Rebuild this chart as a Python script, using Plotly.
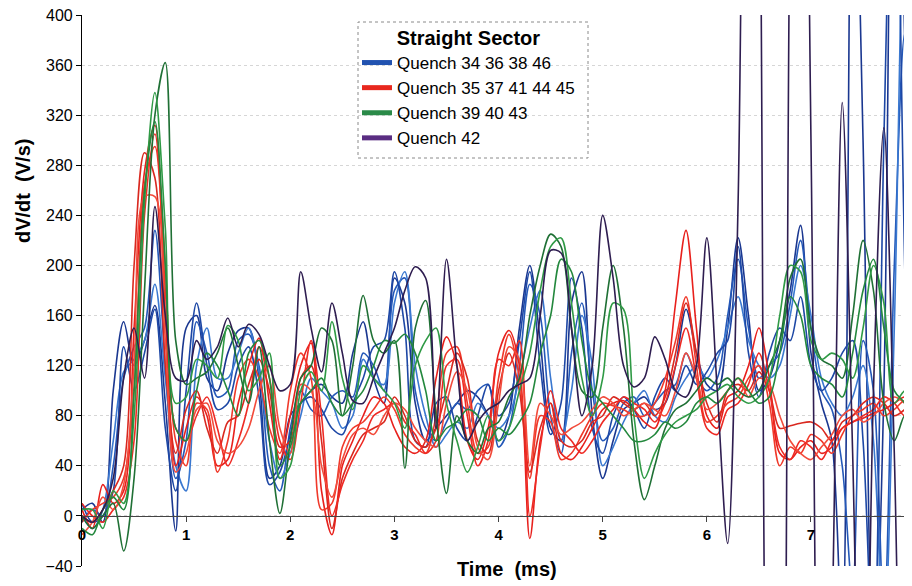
import plotly.graph_objects as go

# time grid (ms)
time_ms = [0.0, 0.1, 0.2, 0.3, 0.4, 0.5, 0.6, 0.7, 0.8, 0.9,
           1.0, 1.1, 1.2, 1.3, 1.4, 1.5, 1.6, 1.7, 1.8, 1.9,
           2.0, 2.1, 2.2, 2.3, 2.4, 2.5, 2.6, 2.7, 2.8, 2.9,
           3.0, 3.1, 3.2, 3.3, 3.4, 3.5, 3.6, 3.7, 3.8, 3.9,
           4.0, 4.1, 4.2, 4.3, 4.4, 4.5, 4.6, 4.7, 4.8, 4.9,
           5.0, 5.1, 5.2, 5.3, 5.4, 5.5, 5.6, 5.7, 5.8, 5.9,
           6.0, 6.1, 6.2, 6.3, 6.4, 6.5, 6.6, 6.7, 6.8, 6.9,
           7.0, 7.1, 7.2, 7.3, 7.4, 7.5, 7.6, 7.7, 7.8, 7.9, 8.0]

# Blue group: Quench 34 36 38 46
q34 = [5, 10, -5, 100, 155, 120, 140, 168, 90, -12,
       150, 160, 110, 100, 130, 148, 150, 110, 30, 40,
       80, 90, 100, 105, 95, 90, 130, 155, 110, 90,
       190, 170, 90, 60, 70, 80, 90, 100, 95, 80,
       60, 80, 150, 200, 140, 70, 60, 170, 195, 80,
       30, 60, 85, 90, 95, 85, 90, 120, 165, 130,
       105, 100, 150, 222, 160, 100, 110, 140, 180, 232,
       130, 90, 60, -100, 600, 300, -150, 100, 700, 380, -100]
q36 = [-5, 5, 0, 40, 110, 135, 150, 228, 120, 30,
       60, 155, 130, 95, 100, 140, 145, 120, 40, 20,
       70, 100, 85, 80, 95, 100, 95, 130, 120, 100,
       180, 190, 100, 70, 60, 75, 90, 85, 100, 105,
       55, 70, 120, 185, 160, 80, 50, 130, 170, 100,
       60, 70, 90, 95, 80, 90, 100, 105, 130, 110,
       100, 110, 160, 205, 150, 110, 120, 130, 170, 220,
       150, 100, 85, 40, -60, 140, 100, -80, 200, 385, 250]
q38 = [0, -10, 5, 60, 115, 125, 140, 185, 110, 40,
       20, 120, 150, 110, 110, 130, 150, 115, 60, 30,
       50, 80, 110, 100, 90, 70, 80, 125, 110, 105,
       170, 195, 120, 80, 55, 65, 75, 70, 90, 80,
       70, 80, 110, 150, 180, 110, 60, 100, 160, 120,
       40, 55, 75, 90, 100, 80, 75, 95, 110, 120,
       110, 125, 150, 175, 140, 120, 110, 120, 160, 200,
       160, 110, 90, 80, 95, 120, 60, -100, 150, 500, 200]
q46 = [10, -5, 0, 20, 135, 100, 130, 165, 70, 20,
       100, 170, 120, 85, 90, 120, 135, 95, 25, 35,
       65, 90, 95, 85, 70, 65, 90, 110, 135, 140,
       195, 150, 60, 55, 90, 95, 70, 60, 80, 105,
       80, 90, 140, 195, 120, 65, 90, 190, 150, 70,
       50, 80, 95, 85, 70, 95, 110, 100, 120, 105,
       115, 130, 140, 215, 130, 95, 130, 150, 140, 175,
       120, 100, 110, 130, 140, 60, -120, 300, 600, 200, -150]

# Red group: Quench 35 37 41 44 45
q35 = [5, -10, 25, 10, 20, 150, 275, 312, 160, 40,
       70, 95, 80, 40, 45, 90, 120, 142, 90, 45,
       80, 120, 138, 20, -15, 40, 60, 80, 95, 90,
       70, 55, 50, 60, 110, 143, 120, 60, 45, 70,
       130, 148, 120, -18, 60, 90, 50, 45, 55, 70,
       85, 90, 92, 85, 75, 70, 100, 170, 228, 150,
       80, 70, 95, 100, 120, 150, 110, 50, 45, 55,
       60, 50, 55, 70, 75, 78, 82, 85, 90, 95, 90]
q37 = [-5, 5, 10, 15, 30, 100, 265, 295, 180, 60,
       40, 90, 85, 35, 60, 110, 125, 110, 70, 50,
       100, 130, 110, 5, 10, 55, 70, 75, 85, 95,
       85, 65, 55, 50, 80, 130, 135, 90, 50, 55,
       110, 145, 110, 30, 80, 75, 45, 50, 65, 80,
       90, 88, 85, 80, 80, 90, 110, 140, 175, 120,
       75, 80, 90, 95, 110, 120, 90, 40, 55, 50,
       65, 60, 50, 65, 80, 85, 90, 80, 85, 92, 85]
q41 = [0, -5, 5, 20, 40, 200, 290, 270, 120, 50,
       85, 100, 70, 50, 75, 80, 105, 125, 100, 55,
       60, 110, 120, 60, -10, 30, 50, 65, 70, 75,
       95, 80, 60, 55, 70, 100, 130, 110, 60, 50,
       100, 130, 100, 35, 70, 90, 60, 55, 60, 75,
       80, 95, 90, 85, 90, 80, 95, 130, 170, 130,
       90, 75, 100, 105, 100, 115, 100, 70, 72, 74,
       75, 70, 60, 75, 80, 90, 95, 90, 80, 85, 95]
q44 = [10, 0, -5, 5, 15, 60, 240, 305, 200, 70,
       60, 80, 95, 70, 40, 60, 90, 135, 110, 60,
       45, 90, 140, 80, 0, 25, 45, 60, 80, 85,
       90, 75, 65, 50, 60, 120, 125, 80, 40, 60,
       125, 120, 140, 0, 55, 100, 70, 60, 50, 60,
       75, 85, 95, 90, 85, 75, 90, 120, 150, 110,
       70, 65, 85, 90, 105, 130, 100, 55, 45, 60,
       55, 45, 60, 70, 75, 80, 85, 95, 90, 80, 90]
q45 = [-15, -5, 15, 5, 25, 120, 255, 255, 140, 35,
       50, 85, 90, 60, 50, 55, 70, 100, 120, 70,
       50, 105, 100, 40, 15, 45, 65, 70, 65, 80,
       90, 85, 70, 60, 55, 90, 115, 100, 55, 45,
       90, 135, 125, 40, 90, 80, 65, 70, 75, 85,
       95, 90, 80, 85, 90, 85, 80, 100, 130, 110,
       85, 90, 100, 110, 95, 110, 105, 80, 60, 50,
       45, 55, 65, 80, 85, 75, 80, 90, 95, 90, 80]

# Green group: Quench 39 40 43
q39 = [0, -10, 0, 10, -28, 30, 180, 320, 362, 140,
       105, 110, 115, 130, 150, 120, 90, 135, 60, 2,
       60, 110, 120, 150, 140, 80, 120, 176, 140, 130,
       140, 38, 150, 172, 80, 18, 80, 60, 50, 70,
       75, 95, 110, 160, 200, 225, 215, 150, 100, 95,
       150, 200, 150, 60, 13, 40, 70, 85, 90, 100,
       110, 105, 110, 100, 95, 100, 120, 140, 190, 205,
       150, 125, 120, 110, 160, 220, 180, 90, 60, 80, -80]
q40 = [5, 5, -10, 20, 10, 80, 250, 338, 230, 90,
       95, 125, 120, 110, 152, 140, 100, 110, 130, 30,
       40, 100, 115, 100, 155, 110, 85, 120, 110, 100,
       90, 70, 120, 140, 150, 90, 60, 35, 55, 80,
       60, 70, 100, 130, 180, 215, 222, 170, 110, 80,
       110, 170, 165, 80, 30, 50, 65, 75, 80, 85,
       95, 100, 105, 95, 90, 95, 110, 160, 200, 195,
       140, 125, 130, 125, 110, 150, 200, 170, 90, 100, 100]
q43 = [-10, -15, 5, 15, 5, 100, 260, 315, 200, 70,
       60, 100, 130, 120, 100, 80, 130, 140, 110, 40,
       55, 90, 100, 110, 90, 80, 90, 100, 120, 140,
       138, 145, 130, 100, 60, 70, 75, 85, 80, 60,
       70, 65, 75, 90, 130, 160, 205, 195, 140, 100,
       90, 80, 70, 60, 60, 65, 75, 70, 75, 90,
       95, 90, 100, 110, 100, 90, 95, 130, 175, 160,
       120, 110, 105, 95, 130, 180, 205, 150, 100, 90, 70]

# Quench 42
q42 = [0, -5, 5, 30, 110, 150, 110, 247, 160, 110,
       108, 140, 125, 135, 158, 135, 153, 145, 120, 100,
       105, 195, 150, 115, 170, 130, 92, 90, 110, 130,
       150, 180, 199, 190, 70, 205, 120, 60, 75, 85,
       90, 100, 105, 110, 160, 212, 210, 150, 80, 120,
       240, 190, 120, 103, 110, 143, 125, 100, 95, 120,
       222, 100, -22, 250, 900, 600, -300, -400, 500, 900,
       300, -400, -100, 330, 50, -300, 100, 310, 50, -300, -100]

groups = [
    ("Quench 34 36 38 46", "#2152b0", [(q34, "#1a3790"), (q36, "#2458b8"), (q38, "#3a78d0"), (q46, "#1d47a5")]),
    ("Quench 35 37 41 44 45", "#e8281e", [(q35, "#e8201c"), (q37, "#f0392a"), (q41, "#d9281f"), (q44, "#ee2a24"), (q45, "#f24b3b")]),
    ("Quench 39 40 43", "#2a8a48", [(q39, "#1f7035"), (q40, "#2f9a45"), (q43, "#23883d")]),
    ("Quench 42", "#5a2d82", [(q42, "#2e1d50")]),
]

fig = go.Figure()
for name, legcol, traces in groups:
    for vals, col in traces:
        fig.add_trace(go.Scatter(x=time_ms, y=vals, mode="lines",
                                 line=dict(color=col, width=1.6, shape="spline", smoothing=0.9),
                                 showlegend=False, hoverinfo="skip"))
for name, legcol, traces in groups:
    fig.add_trace(go.Scatter(x=[None], y=[None], mode="lines", name=name,
                             line=dict(color=legcol, width=5)))

FONT = "Liberation Sans, Arial, sans-serif"
OFF = 8  # page body margin offset
L, R, T, B = 82 - OFF, 0, 15 - OFF, 20
W, H = 912 - OFF, 586 - OFF
pw, ph = W - L - R, H - T - B

def px_x(sx):
    return (sx - OFF - L) / pw

def px_y(sy):
    return (H - B - (sy - OFF)) / ph

fig.update_layout(
    width=W, height=H,
    margin=dict(l=L, r=R, t=T, b=B, autoexpand=False),
    paper_bgcolor="white", plot_bgcolor="white",
    font=dict(family=FONT, color="black"),
    showlegend=True,
    legend=dict(
        x=px_x(357), y=px_y(19), xanchor="left", yanchor="top",
        bgcolor="rgba(0,0,0,0)", borderwidth=0,
        font=dict(size=17, family=FONT, color="black"),
        title=dict(text="<b>Straight Sector</b>", font=dict(size=20, family=FONT), side="top center"),
        tracegroupgap=0, itemwidth=30,
    ),
    xaxis=dict(
        range=[0, 7.97], dtick=1, tick0=0,
        anchor="free", position=40 / 440,
        showline=True, linecolor="#444", linewidth=1,
        ticks="outside", ticklen=5, tickcolor="#444",
        showgrid=False, zeroline=False,
        tickfont=dict(size=15, family=FONT, weight="bold"),
    ),
    yaxis=dict(
        range=[-40, 400], dtick=40, tick0=0,
        showline=True, linecolor="black", linewidth=1.2,
        ticks="outside", ticklen=5, tickcolor="black",
        showgrid=True, gridcolor="#d6d6d6", griddash="dot", gridwidth=1,
        zeroline=False, ticklabeloverflow="allow",
        tickfont=dict(size=16, family=FONT),
    ),
    shapes=[dict(type="rect", xref="paper", yref="paper",
                 x0=px_x(358), x1=px_x(588), y0=px_y(158), y1=px_y(22),
                 line=dict(color="#8a8a8a", width=1, dash="dot"), fillcolor="rgba(0,0,0,0)")],
    annotations=[
        dict(text="<b>dV/dt  (V/s)</b>", xref="paper", yref="paper",
             x=px_x(23), y=px_y(191), textangle=-90, showarrow=False,
             font=dict(size=20, family=FONT), xanchor="center", yanchor="middle"),
        dict(text="<b>Time  (ms)</b>", xref="paper", yref="paper",
             x=px_x(507), y=px_y(569), showarrow=False,
             font=dict(size=20, family=FONT), xanchor="center", yanchor="middle"),
    ],
)

fig.write_html("out.html")
